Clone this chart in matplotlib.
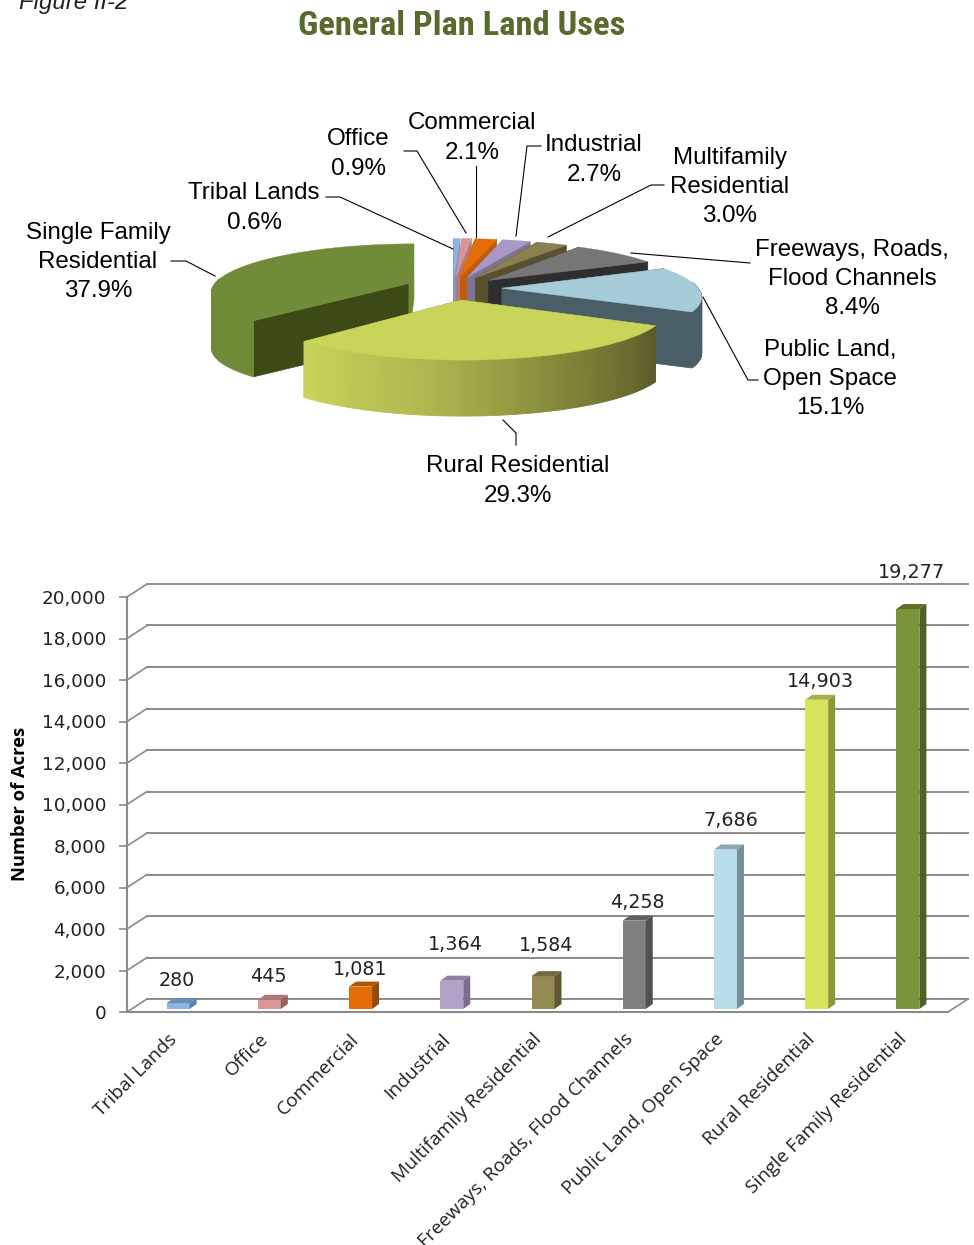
import numpy as np
import matplotlib
matplotlib.use("Agg")
import matplotlib.pyplot as plt
from matplotlib.colors import LinearSegmentedColormap
from matplotlib.transforms import ScaledTranslation
import matplotlib.font_manager as fm

# ---------- data ----------
categories = ["Tribal Lands", "Office", "Commercial", "Industrial", "Multifamily Residential",
              "Freeways, Roads, Flood Channels", "Public Land, Open Space",
              "Rural Residential", "Single Family Residential"]
acres = [280, 445, 1081, 1364, 1584, 4258, 7686, 14903, 19277]
acre_labels = ["280", "445", "1,081", "1,364", "1,584", "4,258", "7,686", "14,903", "19,277"]
percents = [0.6, 0.9, 2.1, 2.7, 3.0, 8.4, 15.1, 29.3, 37.9]
pie_labels = ["Tribal Lands\n0.6%", "Office\n0.9%", "Commercial\n2.1%", "Industrial\n2.7%",
              "Multifamily\nResidential\n3.0%", "Freeways, Roads,\nFlood Channels\n8.4%",
              "Public Land,\nOpen Space\n15.1%", "Rural Residential\n29.3%",
              "Single Family\nResidential\n37.9%"]
y_ticks = list(range(0, 20001, 2000))

# ---------- styles ----------
front = ["#8db4e2", "#d99694", "#e36c09", "#b2a1c7", "#948a54", "#7f7f7f", "#b7dee8", "#d7e45e", "#7a943a"]
roof = ["#6a8db5", "#b07876", "#b05508", "#8d7fa0", "#75693f", "#5f5f5f", "#8aa9b2", "#a9b247", "#5c7029"]
flank = ["#5f7fa6", "#96625f", "#954a07", "#7a6e8c", "#5f5632", "#505050", "#748f98", "#8f9638", "#4f6124"]
pie_top = ["#8db4e2", "#d99694", "#e36c09", "#a998c4", "#8a7f4e", "#767676", "#a6ccd8", "#c8d45a", "#718c38"]
pie_cut = ["#7b9cc4", "#b57a78", "#c45a08", "#7f7396", "#5a5030", "#2e2e2e", "#4a5e68", "#8c9440", "#3c4a18"]
pie_outer = ["#7b9cc4", "#b57a78", "#c45a08", "#8f80a8", "#6c623a", "#5a5a5a", "#4a5e68", "#8c9440", "#6f8a36"]
draw_order = [0, 1, 2, 3, 4, 5, 6, 8, 7]
label_xy = [(254, 208), (358, 154), (472, 138), (594, 160), (730, 187),
            (852, 279), (830, 379), (518, 481), (98, 262)]
leaders = [[(326, 197), (340, 197), (453, 249)],
           [(404, 151), (417, 151), (466, 233)],
           [(476, 166), (476, 237)],
           [(541, 146), (527, 146), (516, 236)],
           [(664, 185), (651, 185), (548, 237)],
           [(750, 263), (631, 253)],
           [(758, 380), (748, 380), (703, 297)],
           [(516, 445), (516, 433), (503, 420)],
           [(171, 261), (186, 261), (215, 276)]]
lab_dx = [-1, -1, 0, 4, 3, 3, 5, 4, 4]
lab_dy = [23, 23, 17, 36, 31, 18, 29, 18, 37]

have = {f.name for f in fm.fontManager.ttflist}
title_font = next((n for n in ["Roboto Condensed", "Archivo Narrow", "PT Sans Narrow", "Saira SemiCondensed"]
                   if n in have), "Liberation Sans")

W, H = 974, 1245
fig = plt.figure(figsize=(W / 100, H / 100), dpi=100, facecolor="white")

# ---------- pixel canvas and title ----------
pix = fig.add_axes([0, 0, 1, 1])
pix.set_xlim(0, W)
pix.set_ylim(H, 0)
pix.axis("off")
pix.text(461.5, 26, "General Plan Land Uses", ha="center", va="center", fontsize=24.8, fontweight="bold",
         color="#566b2c", family=title_font)
pix.text(19, 3, "Figure II-2", ha="left", va="center", fontsize=17.3, style="italic",
         family="Liberation Sans", color="#222222")

# ---------- exploded perspective pie ----------
CX, CY, RAD, BY, K, EXPL, DEPTH = 453, 288, 196, 47, 0.15, 0.25, 56


def project(X, Y):
    s = 1 / (1 + K * Y)
    return CX + X * RAD * s, CY - Y * BY * s


cum = np.concatenate([[0], np.cumsum(percents)]) / 100 * 2 * np.pi
rural_cmap = LinearSegmentedColormap.from_list("r", ["#c8d45a", "#b0b64f", "#7f8438", "#5a5a28"])

for i in draw_order:
    z = 2 + draw_order.index(i)
    t0, t1 = cum[i], cum[i + 1]
    mid = (t0 + t1) / 2
    tipX, tipY = EXPL * np.sin(mid), EXPL * np.cos(mid)
    th = np.linspace(t0, t1, 80)
    ax_, ay_ = project(tipX + np.sin(th), tipY + np.cos(th))
    tx, ty = project(tipX, tipY)
    # cut faces, the farther one first
    faces = sorted([0, -1], key=lambda e: ay_[e])
    for e in faces:
        col = pie_outer[i] if (i == 8 and e == -1) else pie_cut[i]
        pix.fill([tx, ax_[e], ax_[e], tx], [ty, ay_[e], ay_[e] + DEPTH, ty + DEPTH],
                 color=col, lw=0.5, zorder=z)
    # outer rim: only the part that faces the viewer
    for j in range(len(th) - 1):
        if np.cos(th[j]) > 0.12 and np.cos(th[j + 1]) > 0.12:
            continue
        c = rural_cmap(1 - j / (len(th) - 2)) if i == 7 else pie_outer[i]
        pix.fill([ax_[j], ax_[j + 1], ax_[j + 1], ax_[j]],
                 [ay_[j], ay_[j + 1], ay_[j + 1] + DEPTH, ay_[j] + DEPTH],
                 color=c, lw=0.6, zorder=z + 0.1)
    # top face
    pix.fill(np.r_[tx, ax_], np.r_[ty, ay_], color=pie_top[i], lw=0.3, zorder=z + 0.2)

for lab, (x, y), pts in zip(pie_labels, label_xy, leaders):
    pix.text(x, y, lab, ha="center", va="center", fontsize=17.4, family="Liberation Sans",
             color="black", linespacing=1.42, zorder=30)
    p = np.array(pts)
    pix.plot(p[:, 0], p[:, 1], color="black", lw=0.8, zorder=30)

# ---------- 3-D style column chart ----------
L, R, T, B = 127, 948, 597, 1012
ax = fig.add_axes([L / W, 1 - B / H, (R - L) / W, (B - T) / H])
ax.patch.set_alpha(0)
ax.set_xlim(-0.5, 8.5)
ax.set_ylim(0, 20000)
px_x = 9 / (R - L)
px_y = 20000 / (B - T)
GRID = "#8a8a8a"
dep_x, dep_y = 20 * px_x, 13 * px_y

for s in ("top", "right"):
    ax.spines[s].set_visible(False)
for s in ("left", "bottom"):
    ax.spines[s].set_color(GRID)
    ax.spines[s].set_linewidth(1.5)

for v in y_ticks:
    ax.plot([-0.5 + dep_x, 8.5 + dep_x], [v + dep_y, v + dep_y], color=GRID, lw=1.4, clip_on=False, zorder=1)
    ax.plot([-0.5, -0.5 + dep_x], [v, v + dep_y], color=GRID, lw=1.2, clip_on=False, zorder=1)
ax.plot([8.5, 8.5 + dep_x], [0, dep_y], color=GRID, lw=1.2, clip_on=False, zorder=1)

bw = 23 * px_x
xs = np.arange(9) + 5.5 * px_x
base = 3 * px_y
bdx, bdy = 7 * px_x, 5 * px_y
ax.bar(xs, acres, width=bw, bottom=base, color=front, linewidth=0, zorder=3, clip_on=False)
for x, v, rc, fc in zip(xs, acres, roof, flank):
    r = x + bw / 2
    l = x - bw / 2
    tp = v + base
    ax.fill([l, r, r + bdx, l + bdx], [tp, tp, tp + bdy, tp + bdy], color=rc, lw=0, zorder=3, clip_on=False)
    ax.fill([r, r + bdx, r + bdx, r], [base, base + bdy, tp + bdy, tp], color=fc, lw=0, zorder=3, clip_on=False)

for x, v, s, dx, dy in zip(xs, acres, acre_labels, lab_dx, lab_dy):
    ax.annotate(s, (x, v + base), xytext=(dx * 0.72, dy * 0.72), textcoords="offset points",
                ha="center", va="center", fontsize=13.8, color="#222222", family="DejaVu Sans",
                annotation_clip=False, zorder=5)

ax.set_yticks(y_ticks)
ax.set_yticklabels([f"{v:,}" for v in y_ticks], fontsize=13.2, color="#222222", family="DejaVu Sans")
ax.tick_params(axis="y", length=6, width=1.2, color=GRID, pad=9)
ax.set_xticks(np.arange(9))
ax.set_xticklabels(categories, rotation=45, ha="right", va="top", rotation_mode="anchor",
                   fontsize=13.8, color="#222222", family="Open Sans")
ax.tick_params(axis="x", length=0, pad=13)
shift = ScaledTranslation(-5 / 100, 0, fig.dpi_scale_trans)
for lbl in ax.get_xticklabels():
    lbl.set_transform(lbl.get_transform() + shift)
fig.text(20 / W, 1 - 804 / H, "Number of Acres", rotation=90, ha="center", va="center",
         fontsize=13.2, fontweight="bold", family="Open Sans", color="black")

fig.savefig("out.png", dpi=100)
